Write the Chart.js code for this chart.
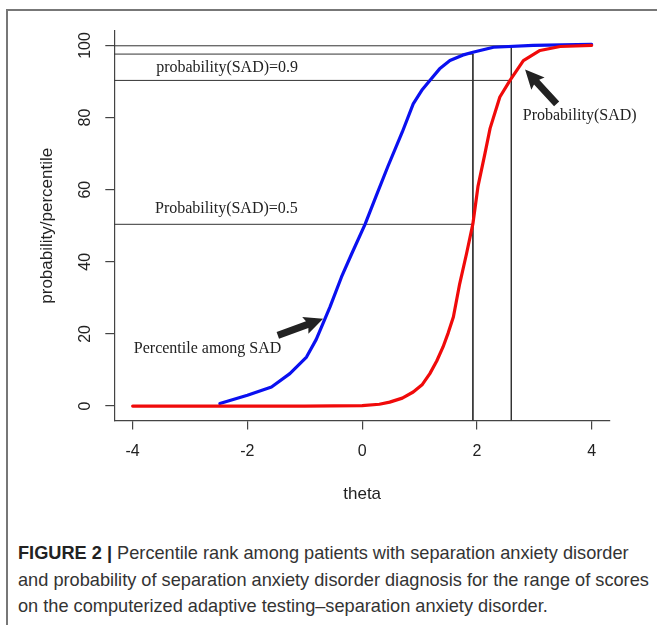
<!DOCTYPE html>
<html>
<head>
<meta charset="utf-8">
<script src="https://cdn.jsdelivr.net/npm/chart.js@4"></script>
<style>
  body { margin: 0; background: #fff; width: 657px; height: 625px; overflow: hidden; position: relative; }
  #frame { position: absolute; left: 6px; top: 9px; width: 700px; height: 700px;
           border-left: 2px solid #777; border-top: 2px solid #777; }
  #chart { position: absolute; left: 0; top: 0; }
  #caption { position: absolute; left: 18px; top: 540px; width: 640px;
             font-family: "Liberation Sans", Arial, sans-serif; font-size: 18.2px;
             line-height: 26.5px; color: #333; white-space: nowrap; }
  #caption b { color: #222; }
</style>
</head>
<body>
<div id="frame"></div>
<canvas id="chart" width="657" height="520"></canvas>
<div id="caption"><b>FIGURE 2 |</b> Percentile rank among patients with separation anxiety disorder<br>and probability of separation anxiety disorder diagnosis for the range of scores<br>on the computerized adaptive testing–separation anxiety disorder.</div>
<script>
// theta / value pairs
const percentileTheta = [-2.48, -2.0, -1.58, -1.26, -0.97, -0.8, -0.68, -0.56, -0.36, -0.18, 0.05, 0.25, 0.45, 0.7, 0.89, 1.05, 1.18, 1.35, 1.53, 1.75, 1.93, 2.29, 2.98, 4.0];
const percentileValues = [0.7, 3.0, 5.3, 9.0, 13.6, 18.5, 23.0, 27.5, 35.8, 42.3, 50.4, 58.5, 66.5, 76.0, 83.8, 87.8, 90.3, 93.5, 95.8, 97.3, 98.1, 99.5, 100, 100.3];

const probTheta = [-4.0, -1.0, 0.0, 0.3, 0.48, 0.7, 0.89, 1.05, 1.18, 1.3, 1.41, 1.5, 1.59, 1.7, 1.82, 1.93, 2.02, 2.14, 2.23, 2.4, 2.58, 2.81, 3.1, 3.45, 4.0];
const probValues = [0, 0, 0.1, 0.5, 1.1, 2.2, 3.9, 6.0, 9.0, 12.5, 16.4, 20.3, 24.7, 33.9, 42.3, 50.5, 61.0, 70.0, 77.0, 85.7, 90.4, 95.8, 98.6, 99.7, 100];

// cut-off guide lines (theta, value)
const cutTheta = [1.93, 2.6];
const cutLevels = [97.6, 99.9, 50.4, 90.3];

const xTicks = [-4, -2, 0, 2, 4];
const yTicks = [0, 20, 40, 60, 80, 100];
const xTitle = 'theta';
const yTitle = 'probability/percentile';

const toXY = (xs, ys) => xs.map((x, i) => ({ x: x, y: ys[i] }));

const X_MIN = -4.32, X_MAX = 4.32, Y_MIN = -4, Y_MAX = 104;

function guide(pts) {
    return { data: pts, borderColor: '#333', borderWidth: 1, pointRadius: 0, fill: false, order: 2 };
}

const guideSets = [
    guide([{ x: X_MIN, y: cutLevels[1] }, { x: cutTheta[1], y: cutLevels[1] }]),
    guide([{ x: X_MIN, y: cutLevels[0] }, { x: cutTheta[0], y: cutLevels[0] }]),
    guide([{ x: X_MIN, y: cutLevels[3] }, { x: cutTheta[1], y: cutLevels[3] }]),
    guide([{ x: X_MIN, y: cutLevels[2] }, { x: cutTheta[0], y: cutLevels[2] }]),
    guide([{ x: cutTheta[0], y: cutLevels[0] }, { x: cutTheta[0], y: Y_MIN }]),
    guide([{ x: cutTheta[1], y: cutLevels[1] }, { x: cutTheta[1], y: Y_MIN }])
];

// text labels and arrows, anchored in data units
const notes = [
    { text: 'probability(SAD)=0.9', x: -3.59, y: 93.7 },
    { text: 'Probability(SAD)=0.5', x: -3.61, y: 54.8 },
    { text: 'Percentile among SAD', x: -3.98, y: 16.0 },
    { text: 'Probability(SAD)', x: 2.80, y: 80.4 }
];
const arrows = [
    { from: [-1.47, 19.6], to: [-0.68, 24.2] },
    { from: [3.39, 83.8], to: [2.84, 93.3] }
];

const overlay = {
    id: 'overlay',
    afterDraw(chart) {
        const c = chart.ctx, xs = chart.scales.x, ys = chart.scales.y;
        c.save();
        c.fillStyle = '#222';
        // tick labels
        c.font = '16px "Liberation Sans", Arial, sans-serif';
        c.textAlign = 'center';
        c.textBaseline = 'middle';
        xTicks.forEach(v => c.fillText(String(v), xs.getPixelForValue(v), 452));
        yTicks.forEach(v => {
            c.save();
            c.translate(86, ys.getPixelForValue(v));
            c.rotate(-Math.PI / 2);
            c.fillText(String(v), 0, 0);
            c.restore();
        });
        // axis titles
        c.font = '17px "Liberation Sans", Arial, sans-serif';
        c.fillText(xTitle, (chart.chartArea.left + chart.chartArea.right) / 2, 494);
        c.save();
        c.translate(47, (chart.chartArea.top + chart.chartArea.bottom) / 2);
        c.rotate(-Math.PI / 2);
        c.fillText(yTitle, 0, 0);
        c.restore();
        // notes
        c.font = '16px "Liberation Serif", "Times New Roman", serif';
        c.textAlign = 'left';
        notes.forEach(n => c.fillText(n.text, xs.getPixelForValue(n.x), ys.getPixelForValue(n.y)));
        // arrows
        arrows.forEach(a => {
            const x0 = xs.getPixelForValue(a.from[0]), y0 = ys.getPixelForValue(a.from[1]);
            const x1 = xs.getPixelForValue(a.to[0]), y1 = ys.getPixelForValue(a.to[1]);
            const ang = Math.atan2(y1 - y0, x1 - x0);
            const len = Math.hypot(x1 - x0, y1 - y0);
            c.save();
            c.translate(x0, y0);
            c.rotate(ang);
            c.beginPath();
            c.moveTo(0, -3.5);
            c.lineTo(len - 17, -3.5);
            c.lineTo(len - 19, -9);
            c.lineTo(len, 0);
            c.lineTo(len - 19, 9);
            c.lineTo(len - 17, 3.5);
            c.lineTo(0, 3.5);
            c.closePath();
            c.fill();
            c.restore();
        });
        c.restore();
    }
};

new Chart(document.getElementById('chart'), {
    type: 'line',
    data: {
        datasets: [
            { data: toXY(percentileTheta, percentileValues), borderColor: '#0a10f0', borderWidth: 3.2, pointRadius: 0, fill: false, order: 1 },
            { data: toXY(probTheta, probValues), borderColor: '#f00a0a', borderWidth: 3.2, pointRadius: 0, fill: false, order: 0 }
        ].concat(guideSets)
    },
    options: {
        responsive: false,
        animation: false,
        layout: { padding: { top: 31, right: 47, left: 0, bottom: 0 } },
        plugins: { legend: { display: false }, tooltip: { enabled: false } },
        elements: { line: { tension: 0, borderCapStyle: 'round', borderJoinStyle: 'round' } },
        scales: {
            x: {
                type: 'linear', min: X_MIN, max: X_MAX,
                afterBuildTicks: s => { s.ticks = xTicks.map(v => ({ value: v })); },
                afterFit: s => { s.height = 99.5; },
                ticks: { display: false },
                grid: { drawOnChartArea: false, drawTicks: true, tickLength: 9, color: '#444', lineWidth: 1.2 },
                border: { display: true, color: '#444', width: 1.2 }
            },
            y: {
                type: 'linear', min: Y_MIN, max: Y_MAX,
                afterBuildTicks: s => { s.ticks = yTicks.map(v => ({ value: v })); },
                afterFit: s => { s.width = 114.3; },
                ticks: { display: false },
                grid: { drawOnChartArea: false, drawTicks: true, tickLength: 9, color: '#444', lineWidth: 1.2 },
                border: { display: true, color: '#444', width: 1.2 }
            }
        }
    },
    plugins: [overlay]
});
</script>
</body>
</html>
